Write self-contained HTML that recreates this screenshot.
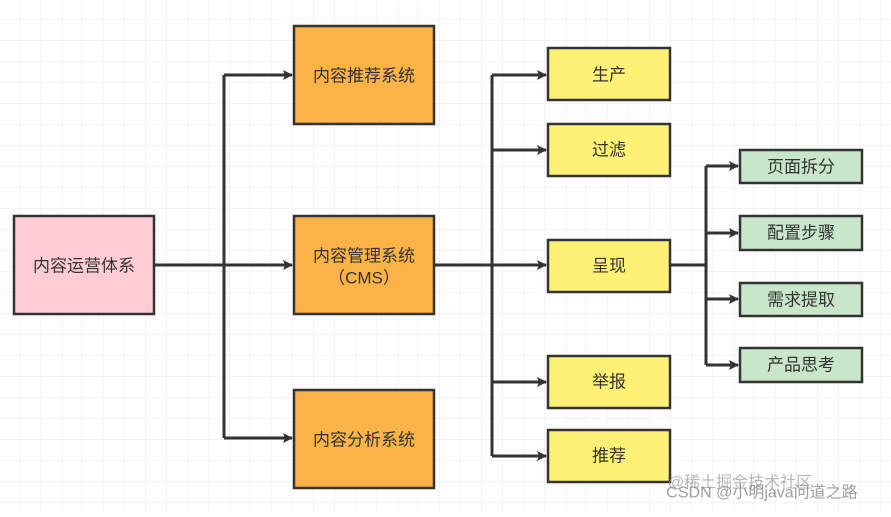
<!DOCTYPE html>
<html><head><meta charset="utf-8"><style>
body{margin:0;width:891px;height:512px;overflow:hidden;background:#fff;}
svg text{font-family:"Liberation Sans","Noto Sans CJK SC",sans-serif;font-size:17px;fill:#333;text-anchor:middle;dominant-baseline:central;}
</style></head><body>
<svg width="891" height="512" viewBox="0 0 891 512">
<defs>
<pattern id="g" width="21" height="21" patternUnits="userSpaceOnUse" x="-1" y="-1">
<path d="M21 0V21M0 21H21" stroke="#e8e8e8" stroke-width="1" fill="none"/>
</pattern>
<marker id="a" markerWidth="10" markerHeight="10" refX="9" refY="5" orient="auto" markerUnits="userSpaceOnUse">
<path d="M0,0 L10,5 L0,10 L2,5z" fill="#333"/>
</marker>
</defs>
<rect width="891" height="512" fill="url(#g)"/>
<g stroke="#333" stroke-width="3" fill="none">
<path d="M154 265H292" marker-end="url(#a)"/>
<path d="M224 75V438"/>
<path d="M224 75H292" marker-end="url(#a)"/>
<path d="M224 438H292" marker-end="url(#a)"/>
<path d="M434 265H546" marker-end="url(#a)"/>
<path d="M492 75V456"/>
<path d="M492 75H546" marker-end="url(#a)"/>
<path d="M492 150H546" marker-end="url(#a)"/>
<path d="M492 382H546" marker-end="url(#a)"/>
<path d="M492 456H546" marker-end="url(#a)"/>
<path d="M670 265H706"/>
<path d="M706 166V365"/>
<path d="M706 166H738" marker-end="url(#a)"/>
<path d="M706 233H738" marker-end="url(#a)"/>
<path d="M706 299H738" marker-end="url(#a)"/>
<path d="M706 365H738" marker-end="url(#a)"/>
</g>
<g stroke="#333" stroke-width="2.5">
<rect x="14" y="216" width="140" height="98" fill="#ffccd5"/>
<rect x="294" y="26" width="140" height="98" fill="#fbb347"/>
<rect x="294" y="216" width="140" height="98" fill="#fbb347"/>
<rect x="294" y="390" width="140" height="98" fill="#fbb347"/>
<rect x="548" y="48" width="122" height="52" fill="#fff176"/>
<rect x="548" y="124" width="122" height="52" fill="#fff176"/>
<rect x="548" y="240" width="122" height="52" fill="#fff176"/>
<rect x="548" y="356" width="122" height="52" fill="#fff176"/>
<rect x="548" y="430" width="122" height="52" fill="#fff176"/>
<rect x="740" y="150" width="122" height="33" fill="#c8e6c9"/>
<rect x="740" y="216" width="122" height="34" fill="#c8e6c9"/>
<rect x="740" y="283" width="122" height="33" fill="#c8e6c9"/>
<rect x="740" y="348" width="122" height="34" fill="#c8e6c9"/>
</g>
<text x="84" y="266">内容运营体系</text>
<text x="364" y="76">内容推荐系统</text>
<text x="364" y="256">内容管理系统</text>
<text x="364" y="278">（CMS）</text>
<text x="364" y="440">内容分析系统</text>
<text x="609" y="75">生产</text>
<text x="609" y="150">过滤</text>
<text x="609" y="266">呈现</text>
<text x="609" y="382">举报</text>
<text x="609" y="456">推荐</text>
<text x="801" y="167">页面拆分</text>
<text x="801" y="233">配置步骤</text>
<text x="801" y="300">需求提取</text>
<text x="801" y="365">产品思考</text>
<text x="740" y="483" style="font-size:16px;fill:#999;opacity:.7">@稀土掘金技术社区</text>
<text x="762" y="493" style="font-size:16px;fill:#888;opacity:.8">CSDN @小明java问道之路</text>
</svg>
</body></html>
